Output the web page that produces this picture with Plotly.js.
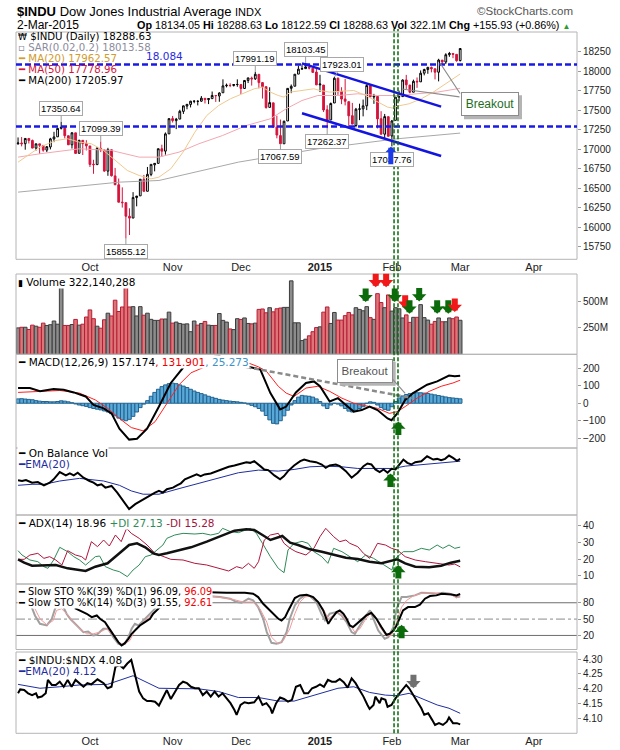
<!DOCTYPE html>
<html><head><meta charset="utf-8">
<script src="https://cdn.plot.ly/plotly-3.0.1.min.js"></script>
<style>html,body{margin:0;padding:0;background:#fff;}#chart{width:620px;height:750px;}</style>
</head><body><div id="chart"></div>
<script>
// ---------- DATA (x = trading-day index, 0 = 3-Sep-2014 ... 123 = 2-Mar-2015) ----------
const monthIdx = [20, 43, 62, 84, 104, 123, 143.5];
const monthLabels = ['Oct', 'Nov', 'Dec', '<b>2015</b>', 'Feb', 'Mar', 'Apr'];
const prevClose = 17067.56;
const openP = [17069,17079,17070,17137,17111,17014,17068,17048,16988,17028,
17131,17158,17266,17280,17172,17056,17209,16947,17113,17071,
17041,16808,16802,17010,16990,16719,16992,16658,16544,16321,
16315,16141,16118,16380,16402,16613,16461,16677,16800,16818,
17005,16975,17196,17391,17365,17385,17484,17552,17573,17613,
17612,17615,17651,17634,17647,17686,17681,17722,17811,17817,
17815,17828,17827,17777,17880,17910,17900,17958,17852,17800,
17535,17593,17282,17174,17069,17361,17779,17806,17961,18025,
18031,18046,18036,17987,17823,17821,17505,17374,17591,17908,
17740,17643,17608,17429,17303,17511,17516,17555,17814,17668,
17675,17390,17192,17416,17169,17369,17666,17673,17886,17821,
17729,17869,17862,17973,18019,18046,18029,17985,18140,18116,
18209,18225,18214,18134.05];
const highP = [17150,17155,17140,17137,17123,17069,17068,17049,17041,17145,
17222,17275,17350.64,17280,17172,17215,17209,17120,17113,17115,
17041,16864,17028,17099.39,16990,17017,16992,16760,16624,16511,
16315,16243,16450,16400,16615,16670,16772,16806,16819,17006,
17057,17214,17395,17425,17400,17504,17559,17577,17619,17623,
17627,17680,17651,17654,17738,17694,17729,17894,17840,17844,
17833,17894,17827,17883,17913,17929,17991.19,17958,17854,17800,
17792,17593,17428,17379,17366,17779,17828,17961,18069,18086,
18103.45,18073,18036,18043,17952,17821,17562,17597,17923.01,17917,
17793,17900,17608,17592,17528,17582,17635,17832,17814,17708,
17675,17486,17451,17417,17374,17667,17749,17894,17951,17821,
17890,17918,18008,18030,18053,18058,18029,18157,18140,18228,
18245,18225,18214,18288.63];
const lowP = [17057,17036,16993,17073,17012,16983,16939,16967,16962,16997,
17090,17158,17252,17138,17055,17008,16939,16947,16925,16984,
16772,16685,16802,16962,16710,16659,16650,16540,16320,16252,
15855.12,15901,16118,16268,16402,16451,16461,16654,16716,16818,
16902,16930,17196,17341,17256,17385,17451,17511,17534,17588,
17560,17605,17585,17577,17647,17605,17607,17722,17791,17794,
17802,17799,17707,17777,17846,17814,17886,17779,17648,17518,
17535,17280,17139,17067.59,17069,17361,17717,17806,17961,18021,
18031,18021,17980,17820,17731,17475,17262.37,17374,17591,17695,
17576,17560,17281,17320,17279,17372,17420,17500,17664,17580,
17265,17191,17136,17163,17037.76,17369,17612,17673,17771,17715,
17729,17785,17862,17945,17965,17983,17893,17868,18073,18089,
18182,18165,18120,18122.59];
const closeP = [17078.28,17069.58,17137.36,17111.42,17013.87,17068.71,17049.00,16987.51,17031.14,17131.97,
17156.85,17265.99,17279.74,17172.68,17055.87,17210.06,16945.80,17113.15,17071.22,17042.90,
16804.71,16801.05,17009.69,16991.91,16719.39,16994.22,16659.25,16544.10,16321.07,16315.19,
16141.74,16117.24,16380.41,16399.67,16614.81,16461.32,16677.90,16805.41,16817.94,17005.75,
16974.31,17195.42,17390.52,17366.24,17383.84,17484.53,17554.47,17573.93,17613.74,17614.90,
17612.20,17652.79,17634.74,17647.75,17687.82,17685.73,17719.00,17810.06,17817.90,17814.94,
17827.75,17828.24,17776.80,17879.55,17912.62,17900.10,17958.79,17852.48,17801.20,17533.15,
17596.34,17280.83,17180.84,17068.87,17356.87,17778.15,17804.80,17959.44,18024.17,18030.21,
18053.71,18038.23,17983.07,17823.07,17832.99,17501.65,17371.64,17584.52,17907.87,17737.37,
17640.84,17613.68,17427.09,17320.71,17511.57,17515.23,17554.28,17813.98,17672.60,17678.70,
17387.21,17191.37,17416.85,17164.95,17361.04,17666.40,17673.02,17884.88,17824.29,17729.21,
17868.76,17862.14,17972.38,18019.35,18047.58,18029.85,17985.77,18140.44,18116.84,18209.19,
18224.57,18214.42,18132.70,18288.63];
const volumeM = [250,256,256,235,276,266,256,295,273,280,315,285,640,
273,273,282,330,276,285,353,420,337,266,247,327,389,363,512,405,448,636,
448,451,363,451,370,389,331,321,321,334,334,399,295,305,292,285,288,214,315,276,292,311,276,273,273,
386,321,305,240,234,337,330,344,292,288,295,425,429,393,441,402,431,438,444,444,695,
298,298,130,143,175,214,253,260,399,448,292,396,324,324,366,396,373,441,425,412,451,347,331,
574,490,441,562,409,441,431,344,373,302,350,350,470,347,324,285,311,344,308,308,344,337,353,322.14];
// overlays
const ma20X = [0,2.8,6.1,10.5,13.8,17.1,20.4,23.8,27.1,30.4,33.7,37,39.2,42.5,45.9,49.2,52.5,55.8,59.1,62.4,65.7,68,70.2,72.4,74,75.7,79,82.3,84,86.7,90.1,93.4,96.7,99.4,102.8,104.4,105.5,108.8,112.2,115.5,118.8,121,123];
const ma20Y = [16834,16919,17026,17111,17133,17090,17069,16983,16855,16727,16663,16620,16642,16749,16962,17218,17431,17559,17645,17709,17773,17794,17730,17687,17666,17730,17751,17773,17751,17730,17743,17751,17687,17623,17538,17525,17551,17581,17645,17730,17837,17901,17962.57];
const ma50X = [0,6.1,17.1,26,33.7,39.2,44.8,50.3,56.9,63.5,70.2,74.6,79,83.4,89,94.5,100,105.5,111,116.6,123];
const ma50Y = [16898,16941,17005,16983,16898,16898,16962,17069,17175,17303,17389,17517,17623,17687,17687,17709,17687,17687,17709,17730,17778.96];
const ma200X = [0,28.2,39.2,61.3,83.4,105.5,123];
const ma200Y = [16450,16578,16599,16834,17005,17133,17205.97];
const chanX = [79, 117.7];
const chanUpperY = [18099, 17544];
const chanLowerY = [17459, 16913];
const priceLevels = [18084, 17290];
const priceTicks = [15750,16000,16250,16500,16750,17000,17250,17500,17750,18000,18250];
const labelIdx = [12, 23, 30, 66, 80, 88, 86, 73, 104];
const labelVal = [17350.64, 17099.39, 15855.12, 17991.19, 18103.45, 17923.01, 17262.37, 17067.59, 17037.76];
const labelAbove = [true, true, false, true, true, true, false, false, false];
// MACD
const macdX = [0,3.3,6.1,9.9,12.7,15.5,18.8,21,23.8,26,28.2,30.9,33.1,35.9,39.2,42.5,45.9,47.5,52.5,56,60,63.5,67.4,70.2,72.9,74.6,77.3,80.1,82.3,84,86.7,89,91.2,93.4,95.6,97.8,100,102.8,103.9,105.5,107.7,109.9,113.8,116.6,119.9,121.5,123];
const macdY = [87,87,69,81,77,62,39,-10,-29,-58,-145,-208,-203,-145,-19,116,203,232,262,268,245,212,193,58,-35,-19,62,116,125,97,10,29,-10,-48,-39,-19,-39,-87,-97,-58,19,58,106,125,158,154,157.174];
const sigX = [0,6.1,11.6,17.1,21.5,24.9,28.2,31.5,34.8,38.1,41.4,44.8,48.1,51.4,54.7,59.1,63.5,66.9,69.1,72.4,74.6,76.8,80.1,83.4,86.7,90.1,93.4,96.7,100,103.3,105.5,107.7,111,114.4,117.7,121,123];
const sigY = [62,68,73,58,19,-29,-87,-139,-158,-106,0,106,174,203,222,240,235,208,183,97,58,39,87,97,68,29,0,-15,-29,-58,-48,-19,29,68,97,116,131.901];
const histY = [25,26,24,22,20, 15,12,10,10,8, 8,10,14,12,8, 3,-4,-10,-14,-18, -25,-30,-34,-38,-44,
 -50,-60,-72,-85,-95, -100,-92,-75,-50,-25, -5,15,40,62,80, 95,105,112,115,112, 105,98,90,80,70,
 62,55,48,40,34, 28,22,18,15,12, 10,8,5,2,-5, -12,-20,-30,-45,-70, -95,-115,-118,-100,-72,
 -40,-10,15,35,45, 42,40,35,25,10, -15,-30,-10,0,-5, -15,-30,-45,-50,-40, -30,-20,0,8,5,
 -10,-25,-35,-40,-20, 10,30,42,50,55, 58,60,60,58,56, 52,48,44,40,36, 32,30,28,25.273];
const macdTrendX = [54.7, 109.9];
const macdTrendY = [241, 29];
// On Balance Volume (relative units)
const obvX = [0,1.1,2.2,3.9,5.5,7.2,8.8,9.9,11.6,13.3,14.4,15.5,16.6,18.2,19.9,21,22.1,23.2,24.3,26,27.6,29.3,30.9,32.6,33.7,34.8,36.5,38.1,39.2,40.3,41.4,43.1,44.2,45.3,46.4,48.1,49.7,50.8,51.9,53.6,55.2,56.9,58.6,60.2,61.9,63.5,64.6,65.7,67.4,68.5,69.6,71.3,72.9,74,75.1,76.8,78.5,79.6,81.2,82.9,84.5,85.6,86.7,88.4,89.5,91.2,92.8,94.5,96.1,97.2,98.3,99.4,100.6,101.7,102.8,103.9,105,106.1,107.2,108.3,109.4,110.5,112.2,113.8,115.5,116.6,117.7,118.8,119.9,121,122.1,123];
const obvY = [97,95,98,90,92,82,90,100,122,112,118,112,120,105,95,90,82,85,75,80,60,35,10,25,32,40,50,60,65,60,70,75,82,88,100,108,115,110,115,118,125,130,138,142,148,152,150,155,140,130,128,112,100,110,125,142,155,160,155,152,145,135,142,145,140,125,105,120,140,148,145,130,122,130,120,132,130,145,160,150,145,152,155,170,160,162,158,162,172,165,156,162];
const obvEmaX = [0,3.9,7.2,11.6,17.1,23.8,28.2,31.5,34.8,39.2,44.8,50.3,55.8,61.3,66.9,72.4,76.8,81.2,85.6,90.1,94.5,100,104.4,107.7,112.2,116.6,123];
const obvEmaY = [82,85,85,95,103,95,82,65,55,55,72,88,105,120,128,125,130,138,140,138,133,133,133,140,145,150,155];
// ADX
const adxX = [0,1.7,3.9,7.2,10.5,13.8,17.1,18.8,21.5,24.9,28.2,30.9,33.1,35.4,37.6,39.2,41.4,44.8,48.1,52.5,56.9,60.2,63.5,65.7,68,70.2,73.5,75.7,77.9,81.2,84.5,87.8,91.2,94.5,97.8,101.1,103.9,105.5,107.7,110.5,114.4,117.7,120.4,123];
const adxY = [19.8,17.8,16,16,16.4,14.4,13.4,12.8,15.4,17.4,23.4,28.4,29.4,27,23.4,22.4,23.4,25,27,30.4,34.4,37,37.8,37.4,34.4,31.4,33.8,29.8,28.4,25.8,24.4,22.4,20.8,20,18.4,17.4,19,19.8,17.4,15.4,15,16,17.8,18.96];
const pdiX = [0,1.1,3.3,5.5,7.2,8.3,9.9,11.6,13.8,15.5,17.1,18.8,19.9,21.5,22.7,24.3,26.5,28.2,30.4,32,33.7,35.4,37,38.7,40.3,41.4,43.6,45.9,49.2,51.4,53.6,55.8,56.9,59.1,61.3,64.6,66.3,68,70.2,72.4,74,75.1,76.8,79,80.7,82.3,84.5,86.2,87.8,90.1,92.3,94.5,96.7,98.9,101.1,103.3,104,105,107.2,109.9,112.2,114.4,116.6,118.2,119.9,121.5,123];
const pdiY = [25,22.4,19.4,18.4,15.4,14.4,19.4,27,24.4,21.4,19.4,16.4,18.4,21.4,21.8,15.4,13.4,12.4,9.4,13.4,16.4,21.4,22.4,25.4,28.4,32.4,34.4,35.4,35,35.4,34.4,35.4,38.4,36.4,35.8,38.4,35.4,29.4,21.4,14.4,11.8,25.4,29.4,30.6,29.4,24.4,21.4,17.4,26.4,24.4,21.4,18.4,22.4,20.4,17.4,14.4,13.4,20.4,24.4,24.4,26.4,25.4,28.4,26.4,28.4,26.4,27.13];
const mdiX = [0,1.7,3.3,5.5,7.2,8.8,10.5,12.2,13.8,16,17.7,18.8,20.4,22.1,23.8,25.4,27.1,28.7,30.2,31.5,33.7,35.9,38.1,40.3,42.5,45.9,49.2,52.5,55.8,58.6,60.8,62.4,64.1,65.7,66.9,68.5,70.2,72.4,74,75.7,77.3,80.1,82.3,84,85.6,87.8,89.5,91.2,92.3,94.5,96.1,97.8,100,102.2,103.9,105.5,107.7,110.5,113.3,116.6,119.9,121.5,123];
const mdiY = [19.8,19.8,22.4,23.4,20.4,21.4,19.4,16.4,25,22.4,21.4,19.4,30.4,27.4,31.4,27.8,34.4,30.4,38.4,35.4,32.4,28.4,23.4,21.4,19.8,19.4,17.4,16.4,14.4,12.8,15.4,14.4,17.4,14.4,18.4,31.4,34.4,35.4,29.4,26.4,24.4,22.4,26.4,33.4,38.4,33.4,30.4,31.4,29.4,27.4,23.4,20.4,29.4,28.4,26.4,25.4,21.4,19.4,18.4,17.4,16.4,17,15.28];
// Slow stochastics
const k39X = [15.8,19.1,20.5,21.9,22.8,24.2,25.1,26,26.9,27.9,28.8,29.7,30.7,31.6,33,33.9,35.3,36.7,37.6,38.6,39.5,43.2,50.6,58,63.1,65.4,66.8,68.2,69.6,71,72.4,73.3,74.3,75.2,76.1,77,78.4,79.8,80.3,82.1,83.5,84.9,86.3,87.2,88.6,89.5,90.5,91.4,92.3,93.2,94.2,95.6,96.9,98.3,99.7,101.1,102.5,103.4,104.4,105.3,106.2,107.1,108.5,110.4,111.8,113.2,114.6,116.4,117.8,119.2,120.6,122,123];
const k39Y = [70.2,59.8,53.6,56.7,50.6,44.4,35.3,26.1,16.9,7.7,1.5,5.8,13.8,23,32.2,38.3,44.4,50.6,59.8,65.9,72,96.6,99.6,98.4,98.4,96.6,90.4,78.2,69,59.8,50.6,47.5,53.6,65.9,78.2,88.6,93.5,94.7,94.7,90.4,81.2,65.9,41.4,50.6,62.8,65.9,59.8,50.6,38.3,35.3,41.4,50.6,56.7,61.6,50.6,35.3,21.2,23,29.1,38.3,53.6,65.9,72,72,76.3,87.4,92.3,93.5,96.6,96.6,95.3,93.5,96.09];
const k14X = [3.8,4.7,6.1,8,9.4,10.3,10.9,11.5,12.4,13.5,14.5,15.8,17.2,18.2,19.5,20.9,21.9,22.8,23.7,25.1,26.5,27.9,28.8,29.7,30.7,31.6,32.5,33.5,34.4,35.3,36.7,38.1,39,43.2,50.6,56.2,59,60.8,62.2,64.1,65.4,66.8,68.2,69.2,70.5,71.9,73.3,74.7,75.6,77,78.4,79.8,81.2,83,84.4,85.4,86.7,88.6,90,91.4,92.8,93.7,95.1,96.5,97.9,98.8,100.2,102,103,104.4,105.3,106.7,108.1,110.4,112.2,114.1,116.4,118.3,120.1,122,123];
const k14Y = [72,56.7,41.4,38.3,50.6,69,76.3,93.5,75.1,59.8,50.6,41.4,32.2,26.1,27.3,19.9,21.2,26.1,32.2,32.2,16.9,4.6,2.8,4.6,16.9,32.2,41.4,38.3,44.4,50.6,59.8,69,75.1,96.6,93.5,90.4,87.4,81.2,80,87.4,84.3,72,50.6,26.1,6.4,4.6,7.7,26.1,50.6,75.1,87.4,93.5,92.3,81.2,59.8,47.5,59.8,62.8,56.7,44.4,26.1,23,38.3,53.6,65.9,50.6,29.1,13.8,16.9,35.3,69,90.4,90.4,93.5,98.4,97.8,96.6,98.4,96.6,90.4,91.55];
const d3X = [4.7,6.1,8,9.8,10.7,12.1,14,15.4,17.2,19.1,20.9,22.8,24.6,26.5,27.9,29.3,31.1,32.5,34.4,36.2,38.1,39.5,45,52.5,59.9,62.7,65.4,67.3,69.2,70.5,72.4,73.8,75.6,77,78.4,79.8,81.2,83,84.9,86.3,87.7,89.1,90.5,91.8,93.7,95.1,96.5,97.9,99.3,100.7,102.5,103.9,105.3,106.7,108.1,109.9,111.8,114.6,117.3,120.1,122,123];
const d3Y = [69,50.6,39.5,47.5,65.9,69,56.7,44.4,32.2,23,23,26.1,32.2,19.9,7.7,2.8,10.7,29.1,41.4,53.6,62.8,72,93.5,93.5,86.1,81.2,81.2,69,44.4,16.9,4.6,10.7,32.2,59.8,81.2,90.4,92.3,84.3,69,50.6,56.7,62.8,53.6,44.4,26.1,32.2,47.5,59.8,56.7,35.3,18.7,19.9,44.4,72,84.3,92.3,96.6,98.4,97.2,96.6,88.6,92.61];
const stoLevels = [20, 50, 80];
// $INDU:$NDX ratio
const ratioX = [0,0.6,1.7,2.8,3.9,5,5.5,6.6,7.7,8.3,9.4,10.5,11.6,12.7,13.8,14.9,16,17.1,18.2,19.3,20.4,22.1,23.8,24.9,26,27.1,28.2,29.3,30.4,31.5,32.6,33.7,34.8,35.9,37,38.1,39.2,40.3,41.4,42.5,43.6,44.8,45.9,47,48.1,49.2,50.3,51.4,52.5,53.6,54.7,55.8,56.9,58,59.1,60.2,60.8,61.9,63,64.1,65.7,66.9,68,69.1,70.2,70.7,71.8,72.9,74,75.1,76.2,77.3,78.5,79.6,80.7,81.8,82.9,84,85.1,86.2,87.3,88.4,89.5,90.6,91.7,92.8,93.9,95,96.1,97.2,97.8,98.9,99.4,100.6,101.1,102.2,102.8,103.9,105,106.1,107.2,108,108.8,109.9,111,112.2,113,114.1,115.2,116,117.1,118.2,119.3,119.9,121,122.1,123];
const ratioY = [4.185,4.198,4.196,4.185,4.179,4.185,4.171,4.174,4.185,4.23,4.213,4.213,4.224,4.207,4.23,4.207,4.23,4.219,4.207,4.219,4.215,4.232,4.219,4.202,4.207,4.274,4.28,4.269,4.285,4.297,4.246,4.191,4.168,4.159,4.159,4.157,4.144,4.168,4.196,4.166,4.191,4.213,4.224,4.219,4.207,4.202,4.202,4.179,4.191,4.174,4.191,4.174,4.185,4.168,4.152,4.129,4.113,4.146,4.155,4.152,4.155,4.174,4.146,4.152,4.135,4.118,4.152,4.171,4.166,4.157,4.163,4.207,4.213,4.185,4.185,4.202,4.207,4.215,4.207,4.23,4.224,4.224,4.233,4.222,4.204,4.235,4.219,4.196,4.174,4.146,4.133,4.146,4.174,4.152,4.168,4.163,4.14,4.146,4.168,4.185,4.202,4.213,4.202,4.179,4.157,4.135,4.113,4.118,4.096,4.079,4.085,4.079,4.09,4.104,4.085,4.085,4.081];
const ratioEmaX = [0,6.1,11.6,17.1,24.9,32,39.2,44.8,50.3,55.8,61.3,66.9,72.4,76.8,83.4,89,93.4,97.8,102.2,105.5,108.8,112.2,116.6,119.9,123];
const ratioEmaY = [4.215,4.202,4.207,4.213,4.215,4.244,4.202,4.202,4.2,4.191,4.171,4.171,4.159,4.159,4.182,4.202,4.207,4.188,4.179,4.177,4.185,4.168,4.146,4.135,4.118];
// signal markers
const signalIdx = [104.6, 105.7];
const volArrowIdx = [96.7, 99.5, 102.4, 104.8, 107.7, 108.9, 111.6, 116.6, 119.7, 121.5];
const volArrowTipM = [494, 634, 634, 494, 431, 384, 500, 384, 384, 400];
const volArrowBull = [true, false, false, true, false, true, true, true, true, false];

// ---------- LAYOUT HELPERS ----------
const W = 620, H = 750;
const P = x => x / W, Q = y => 1 - y / H;
const XD = [P(16), P(577)];
const XR = [-0.57, 155.5];
const SANS = 'Liberation Sans, Arial, sans-serif';
const NARROW = 'Liberation Sans Narrow, Liberation Sans, Arial, sans-serif';
const DEJ = 'DejaVu Sans, Verdana, sans-serif';
const RED = '#d4143c';
const X = closeP.map((_, i) => i);

const panels = [ // [top px, bottom px]
  [32, 259.3], [274, 354.3], [354.3, 448], [448, 515], [515, 584], [584, 649.5], [652, 733.3]
];
const yRanges = [[15590, 18500], [0, 760e6], [-256, 280], [-8, 195], [5, 46.4], [-5.8, 114.4], [4.051, 4.3235]];

const traces = [];
const line = (x, y, ax, color, width, extra) => Object.assign({type: 'scatter', mode: 'lines', x, y,
  xaxis: 'x' + (ax === 1 ? '' : ax), yaxis: 'y' + (ax === 1 ? '' : ax),
  line: {color, width, shape: 'linear'}, hoverinfo: 'skip', showlegend: false}, extra || {});

// main panel
traces.push(line(ma200X, ma200Y, 1, '#a8a8a8', 1));
traces.push(line(ma50X, ma50Y, 1, '#f2a7b1', 1));
traces.push(line(ma20X, ma20Y, 1, '#efc98f', 1));
traces.push({type: 'candlestick', x: X, open: openP, high: highP, low: lowP, close: closeP,
  xaxis: 'x', yaxis: 'y', whiskerwidth: 0, hoverinfo: 'skip', showlegend: false,
  increasing: {line: {color: '#000', width: 1}, fillcolor: '#ffffff'},
  decreasing: {line: {color: RED, width: 1}, fillcolor: RED}});
traces.push(line(chanX, chanUpperY, 1, '#1414e0', 2.5));
traces.push(line(chanX, chanLowerY, 1, '#1414e0', 2.5));

// volume
const volUp = closeP.map((c, i) => c >= (i ? closeP[i - 1] : prevClose));
traces.push({type: 'bar', x: X, y: volumeM.map(v => v * 1e6), xaxis: 'x2', yaxis: 'y2', width: 1,
  marker: {color: volUp.map(u => u ? '#8c8c8c' : '#dc7478'), line: {color: volUp.map(u => u ? '#3c3c3c' : '#b81c34'), width: 1}},
  hoverinfo: 'skip', showlegend: false});

// MACD
traces.push({type: 'bar', x: X, y: histY, xaxis: 'x3', yaxis: 'y3', width: 1,
  marker: {color: '#58a8d8', line: {color: '#22628f', width: 1}}, hoverinfo: 'skip', showlegend: false});
traces.push(line(sigX, sigY, 3, '#ff2020', 1));
traces.push(line(macdX, macdY, 3, '#000', 2));
traces.push(line(macdTrendX, macdTrendY, 3, '#8a8a8a', 2.5, {line: {color: '#8a8a8a', width: 2.5, dash: '5px,3px'}}));

// OBV
traces.push(line(obvEmaX, obvEmaY, 4, '#1f2d9e', 1));
traces.push(line(obvX, obvY, 4, '#000', 2));

// ADX
traces.push(line(pdiX, pdiY, 5, '#2e8b57', 1));
traces.push(line(mdiX, mdiY, 5, '#b0163c', 1));
traces.push(line(adxX, adxY, 5, '#111', 2.5));

// STO
traces.push(line(k14X, k14Y, 6, '#a0a0a0', 2));
traces.push(line(d3X, d3Y, 6, '#f29a9a', 1));
traces.push(line(k39X, k39Y, 6, '#000', 2));

// ratio
traces.push(line(ratioEmaX, ratioEmaY, 7, '#1f2d9e', 1));
traces.push(line(ratioX, ratioY, 7, '#000', 2));

// ---------- AXES ----------
const layout = {width: W, height: H, margin: {l: 0, r: 0, t: 0, b: 0}, autosize: false,
  paper_bgcolor: '#fff', plot_bgcolor: '#fff', showlegend: false, bargap: 0,
  font: {family: DEJ, size: 10, color: '#000'}, shapes: [], annotations: []};

const yTickCfg = [
  {tickvals: priceTicks, tickformat: 'd'},
  {tickvals: [250e6, 500e6], ticktext: ['250M', '500M']},
  {tickvals: [-200, -100, 0, 100, 200], tickformat: 'd'},
  {tickvals: [], showticklabels: false},
  {tickvals: [10, 20, 30, 40]},
  {tickvals: stoLevels},
  {tickvals: [4.10, 4.15, 4.20, 4.25, 4.30], tickformat: '.2f'}
];
panels.forEach((p, k) => {
  const n = k + 1, s = n === 1 ? '' : n;
  const showX = (n === 1 || n === 7);
  layout['xaxis' + s] = {domain: XD, range: XR, anchor: 'y' + s, showgrid: false, zeroline: false, showline: false,
    fixedrange: true, tickvals: monthIdx, ticktext: monthLabels, showticklabels: showX, ticks: '',
    tickfont: {family: SANS, size: 11, color: '#222'}, rangeslider: {visible: false}};
  layout['yaxis' + s] = Object.assign({domain: [Q(p[1]), Q(p[0])], range: yRanges[k], anchor: 'x' + s, side: 'right',
    showgrid: false, zeroline: false, showline: false, fixedrange: true, ticks: 'outside', ticklen: 3, tickcolor: '#999',
    tickfont: {family: SANS, size: 10, color: '#222'}}, yTickCfg[k]);
  layout.shapes.push({type: 'rect', xref: 'x' + s + ' domain', yref: 'y' + s + ' domain', x0: 0, x1: 1, y0: 0, y1: 1,
    line: {color: '#b4b4b4', width: 1}, layer: 'above'});
});

// reference lines
priceLevels.forEach(v => layout.shapes.push({type: 'line', xref: 'x domain', yref: 'y', x0: 0, x1: 1, y0: v, y1: v,
  line: {color: '#1a1ae8', width: 2.5, dash: '6px,3px'}, layer: 'above'}));
stoLevels.forEach(v => layout.shapes.push({type: 'line', xref: 'x6 domain', yref: 'y6', x0: 0, x1: 1, y0: v, y1: v,
  line: {color: v === 50 ? '#8a8a8a' : '#6e6e6e', width: 1, dash: v === 50 ? 'dashdot' : 'solid'}, layer: 'below'}));
signalIdx.forEach(i => layout.shapes.push({type: 'line', xref: 'x', yref: 'paper', x0: i, x1: i, y0: Q(733.3), y1: Q(29),
  line: {color: '#0b6b0b', width: 1.5, dash: '4px,2px'}, layer: 'above'}));

// ---------- ANNOTATIONS ----------
const A = layout.annotations;
const txt = (x, y, text, opt) => A.push(Object.assign({xref: 'paper', yref: 'paper', x: P(x), y: Q(y), xanchor: 'left', yanchor: 'middle',
  showarrow: false, text, font: {family: DEJ, size: 10.5, color: '#000'}, borderpad: 0}, opt || {}));

// header
txt(16, 11, '<b>$INDU</b> Dow Jones Industrial Average <span style="font-size:11px">INDX</span>', {font: {family: NARROW, size: 13, color: '#000'}});
txt(574, 11, '©StockCharts.com', {xanchor: 'right', font: {family: NARROW, size: 11.5, color: '#555'}});
txt(16, 25, '2-Mar-2015', {font: {family: NARROW, size: 12, color: '#000'}});
txt(571, 25, '<b>Op</b> 18134.05 <b>Hi</b> 18288.63 <b>Lo</b> 18122.59 <b>Cl</b> 18288.63 <b>Vol</b> 322.1M <b>Chg</b> +155.93 (+0.86%) <span style="color:#2a9d2a;font-size:8px">▲</span>',
  {xanchor: 'right', font: {family: NARROW, size: 10.8, color: '#000'}});

// main legend
const LF = {font: {family: DEJ, size: 10.2, color: '#000'}};
txt(17, 36.5, '<span style="font-size:9px">₩</span> $INDU (Daily) 18288.63', LF);
txt(17, 47.5, '<span style="color:#8c8c9c">▫ SAR(0.02,0.2) 18013.58</span>', LF);
txt(17, 58.5, '<span style="color:#d39a2c">━ MA(20) 17962.57</span>', LF);
txt(17, 69.5, '<span style="color:#d4143c">━ MA(50) 17778.96</span>', LF);
txt(17, 80.5, '━ MA(200) 17205.97', LF);
A.push({xref: 'x', yref: 'y', x: 35, y: priceLevels[0], xanchor: 'left', yanchor: 'bottom', showarrow: false,
  text: '18.084', font: {family: DEJ, size: 10.5, color: '#2a2ae0'}});

const WB = {bgcolor: '#ffffff'};
const WBS = {bgcolor: '#ffffff', font: {family: DEJ, size: 9.8, color: '#000'}};
txt(17, 281.7, '<span style="font-size:9px">▮</span> Volume 322,140,288', WB);
txt(17, 362.3, '━ MACD(12,26,9) 157.174<span style="color:#f00000">, 131.901</span><span style="color:#3b93c8">, 25.273</span>', WB);
txt(17, 453.3, '━ On Balance Vol', WB);
txt(17, 464.3, '<span style="color:#1f2d9e">━EMA(20)</span>', WB);
txt(17, 522.7, '━ ADX(14) 18.96 <span style="color:#2e8b57">+DI 27.13</span> <span style="color:#a0143c">-DI 15.28</span>', WB);
txt(17, 591.5, '━ Slow STO %K(39) %D(1) 96.09, <span style="color:#f00000">96.09</span>', WBS);
txt(17, 602, '━ Slow STO %K(14) %D(3) 91.55, <span style="color:#f00000">92.61</span>', WBS);
txt(17, 660, '━ $INDU:$NDX 4.08', WB);
txt(17, 671, '<span style="color:#1f2d9e">━EMA(20) 4.12</span>', WB);

// price labels
labelIdx.forEach((i, k) => A.push({xref: 'x', yref: 'y', x: i, y: labelVal[k], text: labelVal[k].toFixed(2),
  showarrow: true, arrowhead: 0, arrowwidth: 1, arrowcolor: '#9a9a9a', ax: (i === 88 ? 8 : 0), ay: labelAbove[k] ? -13 : 13,
  bgcolor: '#fff', bordercolor: '#a8a8a8', borderwidth: 1, borderpad: 1,
  font: {family: SANS, size: 9.5, color: '#000'}}));

// arrows
const arrow = (xa, ya, x, y, color, ay) => A.push({xref: xa, yref: ya, x, y, text: '', showarrow: true,
  arrowhead: 1, arrowsize: 0.4, arrowwidth: 6, arrowcolor: color, ax: 0, ay, standoff: 0});
volArrowIdx.forEach((i, k) => arrow('x2', 'y2', i, volArrowTipM[k] * 1e6, volArrowBull[k] ? '#0b6b0b' : '#f01818', -15));
A.push({xref: 'x', yref: 'y', x: 103.7, y: 17030, text: '', showarrow: true, arrowhead: 1, arrowsize: 0.35, arrowwidth: 5,
  arrowcolor: '#1a3ae8', ax: 0, ay: 19, standoff: 0});
arrow('x3', 'y3', 105.8, -104, '#0b6b0b', 15);
arrow('x4', 'y4', 103.6, 118, '#0b6b0b', 15);
arrow('x5', 'y5', 105.8, 16.4, '#0b6b0b', 15);
arrow('x6', 'y6', 106.7, 39.5, '#0b6b0b', 15);
arrow('x7', 'y7', 110, 4.202, '#707070', -15);

// Breakout callouts (drop shadow drawn as a shape behind the box)
const callout = (cx, cy, w, h, color, size) => {
  const bw = w / 2 + 2, bh = h / 2 + 2;
  layout.shapes.push({type: 'rect', xref: 'paper', yref: 'paper', x0: P(cx - bw + 3), x1: P(cx + bw + 3),
    y0: Q(cy + bh + 3), y1: Q(cy - bh + 3), fillcolor: '#b4b4b4', line: {width: 0}, layer: 'above'});
  A.push({xref: 'paper', yref: 'paper', x: P(cx), y: Q(cy), xanchor: 'center', yanchor: 'middle', width: w, height: h,
    text: 'Breakout', showarrow: false, bgcolor: '#fff', bordercolor: '#8c8c8c', borderwidth: 1, font: {family: SANS, size, color}});
};
const pointer = (xa, ya, x, y, ax, ay) => A.push({xref: xa, yref: ya, x, y, text: '', showarrow: true, arrowhead: 0,
  arrowwidth: 1.2, arrowcolor: '#8c8c8c', ax, ay, standoff: 0});
pointer('x', 'y', 117.4, 18103, 21, 32);
pointer('x', 'y', 106.8, 17770, 59, 8);
callout(490, 104.2, 54, 20, '#1e6e1e', 12);
pointer('x3', 'y3', 107.7, 57, -16, -18);
callout(364.7, 370.8, 52, 20, '#555555', 11.5);

Plotly.newPlot('chart', traces, layout, {staticPlot: true, displayModeBar: false});
</script></body></html>
